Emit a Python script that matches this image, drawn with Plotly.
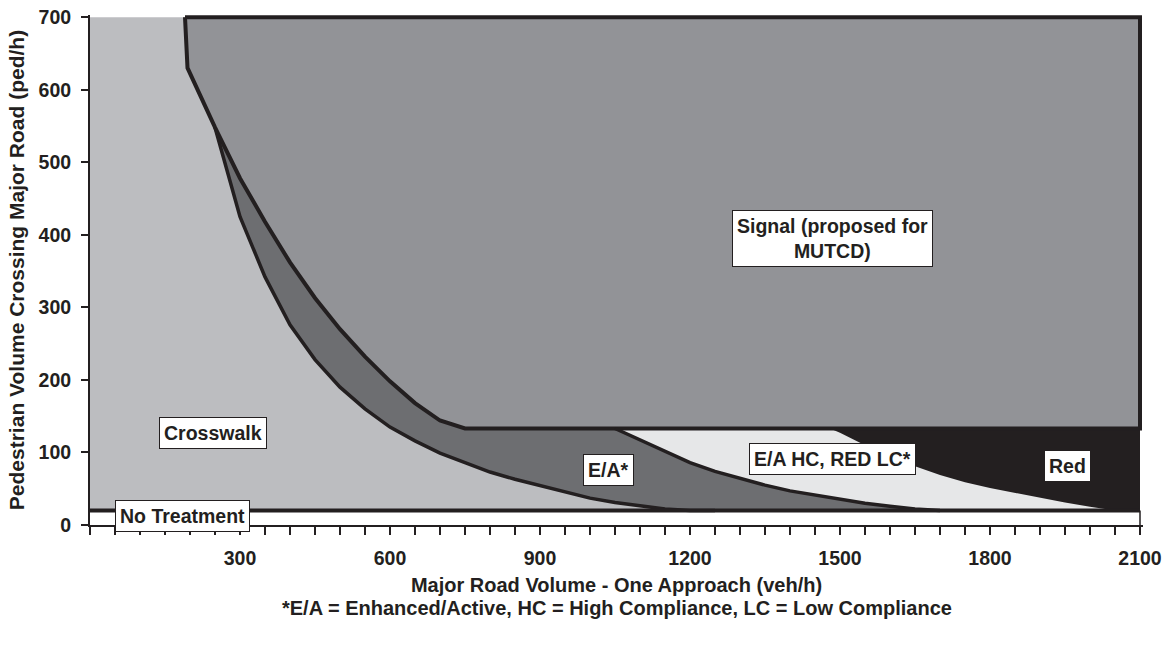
import plotly.graph_objects as go

# ---- boundary curves (x = major road veh/h, y = ped/h) ----
signal_x = [190, 195, 250, 300, 350, 400, 450, 500, 550, 600, 650, 700, 750]
signal_y = [700, 630, 548, 478, 418, 362, 313, 270, 232, 198, 168, 144, 133]

ea_low_x = [250, 300, 350, 400, 450, 500, 550, 600, 650, 700, 750, 800, 850,
            900, 950, 1000, 1050, 1100, 1150, 1200, 1250]
ea_low_y = [548, 425, 342, 276, 228, 190, 160, 135, 116, 99, 86, 73, 63,
            54, 46, 37, 31, 26, 22, 20, 20]

ea_hc_x = [1050, 1100, 1150, 1200, 1250, 1300, 1350, 1400, 1450, 1500, 1550, 1600, 1650, 1700]
ea_hc_y = [133, 117, 101, 86, 74, 64, 55, 47, 41, 35, 30, 26, 22, 20]

red_x = [1480, 1500, 1550, 1600, 1650, 1700, 1750, 1800, 1850, 1900, 1950, 2000, 2050]
red_y = [133, 127, 110, 95, 81, 69, 59, 51, 44, 37, 31, 25, 20]

x_max = 2100
y_max = 700
signal_floor = 133
no_treatment = 20

# ---- axis ticks ----
x_label_vals = [300, 600, 900, 1200, 1500, 1800, 2100]
x_label_text = ["300", "600", "900", "1200", "1500", "1800", "2100"]
x_minor_step = 50
y_tick_vals = [0, 100, 200, 300, 400, 500, 600, 700]
y_tick_text = ["0", "100", "200", "300", "400", "500", "600", "700"]

# ---- region labels ----
label_text = ["Crosswalk", "No Treatment", "E/A*", "E/A HC, RED LC*", "Red",
              "Signal (proposed for<br>MUTCD)"]
label_x = [246, 184, 1036, 1484, 1954, 1484]
label_y = [127, 12, 76, 91, 81, 395]

INK = "#231F20"
C_CROSS = "#BCBDC0"
C_SIGNAL = "#929397"
C_EA = "#6D6E71"
C_EAHC = "#E6E7E8"
C_RED = "#231F20"
FONT = "Liberation Sans, Arial, sans-serif"
FS = 19.5


def bold(size):
    return dict(family=FONT, size=size, color=INK, weight="bold")


fig = go.Figure()


def area(xs, ys, color, line_w=0):
    fig.add_trace(go.Scatter(
        x=xs, y=ys, mode="lines", fill="toself", fillcolor=color,
        line=dict(color=INK, width=line_w) if line_w else dict(width=0, color=color),
        hoverinfo="skip", showlegend=False))


def edge(xs, ys, w):
    fig.add_trace(go.Scatter(x=xs, y=ys, mode="lines",
                             line=dict(color=INK, width=w),
                             hoverinfo="skip", showlegend=False))


# Crosswalk background
area([0, 0, x_max, x_max], [no_treatment, y_max, y_max, no_treatment], C_CROSS)

# E/A band: between lower curve and signal curve, down to the no-treatment line
ea_poly_x = ea_low_x + [x_max, x_max] + signal_x[::-1][:-2]
ea_poly_y = ea_low_y + [no_treatment, signal_floor] + signal_y[::-1][:-2]
area(ea_poly_x, ea_poly_y, C_EA)

# E/A HC, RED LC band
area(ea_hc_x + [x_max, x_max], ea_hc_y + [no_treatment, signal_floor], C_EAHC)

# Red band
area(red_x + [x_max, x_max], red_y + [no_treatment, signal_floor], C_RED)

# Signal region with heavy outline
sig_poly_x = signal_x + [x_max, x_max, signal_x[0]]
sig_poly_y = signal_y + [signal_floor, y_max, y_max]
area(sig_poly_x, sig_poly_y, C_SIGNAL, line_w=4)

# Boundary curves
edge(ea_low_x, ea_low_y, 3.5)
edge(ea_hc_x, ea_hc_y, 3.5)
edge([0, x_max], [no_treatment, no_treatment], 4)
edge([x_max, x_max], [0, no_treatment], 1.5)

# x tick marks every 50 veh/h, labelled every 300
x_tick_vals = list(range(0, x_max + 1, x_minor_step))
x_tick_text = [x_label_text[x_label_vals.index(v)] if v in x_label_vals else ""
               for v in x_tick_vals]

for t, x, y in zip(label_text, label_x, label_y):
    fig.add_annotation(x=x, y=y, text=t, showarrow=False, align="center",
                       bgcolor="white", bordercolor=INK, borderwidth=1, borderpad=4,
                       font=bold(FS))

fig.add_annotation(xref="paper", yref="paper", x=0.5, y=-0.163, yanchor="middle",
                   text="*E/A = Enhanced/Active, HC = High Compliance, LC = Low Compliance",
                   showarrow=False, font=bold(20))

fig.update_layout(
    width=1169, height=648,
    margin=dict(l=90, r=26, t=15, b=123),
    paper_bgcolor="white", plot_bgcolor="white",
    font=bold(FS),
    xaxis=dict(range=[0, 2106], tickmode="array", tickvals=x_tick_vals, ticktext=x_tick_text,
               ticks="outside", ticklen=8, tickwidth=1.5, tickcolor=INK, automargin=False,
               showline=True, linecolor=INK, linewidth=1.5, showgrid=False, zeroline=False,
               ticklabelstandoff=7, tickfont=bold(FS),
               title=dict(text="Major Road Volume - One Approach (veh/h)", standoff=10,
                          font=bold(20))),
    yaxis=dict(range=[0, 703], tickmode="array", tickvals=y_tick_vals, ticktext=y_tick_text,
               ticks="outside", ticklen=7, tickwidth=1.5, tickcolor=INK, automargin=False,
               showline=True, linecolor=INK, linewidth=2, showgrid=False, zeroline=False,
               ticklabelstandoff=6, tickfont=bold(FS),
               title=dict(text="Pedestrian Volume Crossing Major Road (ped/h)", standoff=8,
                          font=bold(21))),
)

fig.write_html("out.html")
